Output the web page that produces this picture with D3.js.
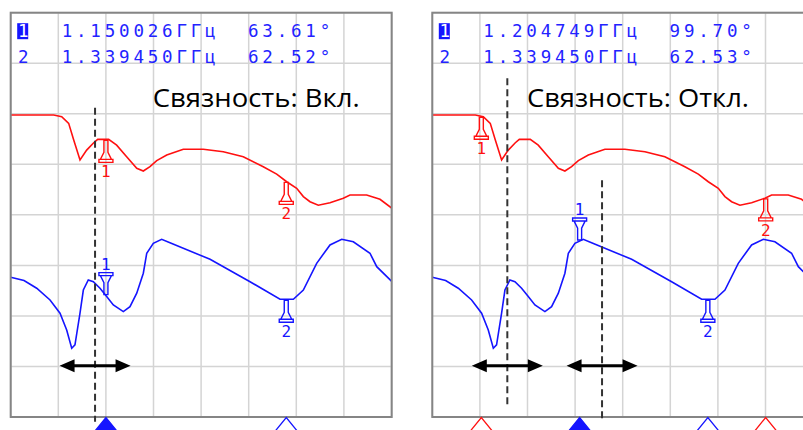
<!DOCTYPE html>
<meta charset="utf-8">
<head>
  <style>
    body { margin: 0; background: #fff; }
    .grid line { stroke: #d4d4d4; stroke-width: 1.5px; }
    .frame { fill: none; stroke: #858585; stroke-width: 2px; }
    .readout { font-family: "DejaVu Sans Mono", monospace; font-size: 17.5px; letter-spacing: 3.8px; fill: #2323ff; }
    .title { font-family: "Open Sans", sans-serif; font-size: 26px; fill: #000; }
    .mlabel { font-family: "DejaVu Sans Mono", monospace; font-size: 16px; }
    .dash { stroke: #333; stroke-width: 2px; stroke-dasharray: 7 4; }
  </style>
  <script src="https://d3js.org/d3.v7.min.js"></script>
</head>
<body>
  <svg width="803" height="430"></svg>
  <script>
    // trace 1 (red): GHz / deg
    var redFreq = [1.05, 1.0952, 1.1036, 1.1109, 1.1162, 1.1228, 1.1298, 1.1372, 1.1414, 1.1529, 1.1613, 1.1718,
      1.1824, 1.1893, 1.1963, 1.2034, 1.2139, 1.2313, 1.2523, 1.2733, 1.2943, 1.3153, 1.3294, 1.3399, 1.3504,
      1.3574, 1.3644, 1.3731, 1.3854, 1.3994, 1.4064, 1.4239, 1.4379, 1.4505];
    var redVal = [177.2, 177.2, 176.2, 172.0, 161.6, 149.1, 155.3, 159.9, 162.0, 162.0, 158.4, 151.1,
      143.9, 142.2, 144.9, 148.7, 152.2, 155.8, 155.8, 154.3, 151.1, 144.9, 140.3, 135.5, 131.4,
      126.2, 123.0, 120.8, 122.4, 125.2, 127.2, 127.2, 124.5, 118.9];
    // trace 2 (blue)
    var blueFreq = [1.05, 1.064, 1.0773, 1.0913, 1.1018, 1.1088, 1.1141, 1.1175, 1.1228, 1.1263, 1.1315, 1.1368,
      1.1438, 1.1508, 1.1578, 1.1683, 1.1753, 1.1824, 1.1893, 1.1929, 1.1998, 1.2086, 1.2173, 1.2594,
      1.3014, 1.3329, 1.3469, 1.3574, 1.3714, 1.3854, 1.3977, 1.4099, 1.4274, 1.4345, 1.4505];
    var blueVal = [75.8, 73.7, 68.9, 61.6, 53.3, 42.8, 31.4, 33.5, 53.3, 67.8, 74.1, 73.0,
      68.9, 63.7, 58.5, 54.3, 57.4, 65.8, 78.3, 90.8, 97.0, 99.5, 97.4, 87.0,
      73.0, 62.0, 62.0, 67.8, 84.5, 96.0, 99.5, 98.0, 90.8, 82.4, 73.0];

    var titles = ["Связность: Вкл.", "Связность: Откл."];
    var readIdx = ["1", "2"];
    var readFreq = [["1.150026ГГц", "1.339450ГГц"], ["1.204749ГГц", "1.339450ГГц"]];
    var readVal = [["63.61°", "62.52°"], ["99.70°", "62.53°"]];
    var blueMarkers = [[1.150026, 1.339450], [1.204749, 1.339450]];
    var redMarkers = [[1.150026, 1.339450], [1.1015, 1.4002]];
    var dashFreq = [[1.1386], [1.1288, 1.2283]];
    var arrowHalf = 0.0373;

    var svg = d3.select("svg");
    var W = 476, H = 404.3, VIS = 381;
    var x = d3.scaleLinear().domain([1.05, 1.55]).range([0, W]);
    var y = d3.scaleLinear().domain([-11.6, 241.2]).range([H, 0]);
    var xTicks = d3.range(0, 11).map(function(i) { return 1.05 + i * 0.05; });
    var yTicks = d3.range(0, 9).map(function(i) { return -11.6 + i * 31.6; });

    var RED = "#ff1010", BLUE = "#1515ff";

    var layout = [
      { x0: 10.7, titleX: 142, blueSide: ["up", "down"], redSide: ["down", "down"],
        dashY: [[95, 409]] },
      { x0: 432.3, titleX: 94.7, blueSide: ["up", "down"], redSide: ["down", "down"],
        dashY: [[65.5, 394], [167.5, 408]] }
    ];

    function valAt(fr, vals, f) {
      var i = d3.bisectLeft(fr, f);
      if (i <= 0) return vals[0];
      if (i >= fr.length) return vals[vals.length - 1];
      var t = (f - fr[i - 1]) / (fr[i] - fr[i - 1]);
      return vals[i - 1] + t * (vals[i] - vals[i - 1]);
    }

    var line = d3.line().x(function(d) { return x(d[0]); }).y(function(d) { return y(d[1]); });

    // marker symbol, tip at origin, body hangs below (s=1) or above (s=-1)
    function markerPath(s) {
      var p = [[-2, 1], [-2, 13], [-5.5, 20], [-7, 20], [-7, 23], [7, 23], [7, 20], [5.5, 20], [2, 13], [2, 1]];
      return "M" + p.map(function(q) { return q[0] + "," + (q[1] * s); }).join("L") + "Z" +
        "M-7," + (20 * s) + "H7";
    }

    layout.forEach(function(L, pi) {
      var g = svg.append("g").attr("transform", "translate(" + L.x0 + ",12.7)");

      g.append("clipPath").attr("id", "clip" + pi)
        .append("rect").attr("width", VIS).attr("height", H);

      var grid = g.append("g").attr("class", "grid");
      grid.selectAll(".v").data(xTicks.filter(function(t) { return x(t) <= VIS + 1; }))
        .enter().append("line")
        .attr("x1", function(d) { return x(d); }).attr("x2", function(d) { return x(d); })
        .attr("y1", 0).attr("y2", H);
      grid.selectAll(".h").data(yTicks).enter().append("line")
        .attr("x1", 0).attr("x2", VIS)
        .attr("y1", function(d) { return y(d); }).attr("y2", function(d) { return y(d); });

      // readout
      readIdx.forEach(function(k, r) {
        var by = 24.5 + r * 25.5;
        if (r === 0) {
          g.append("rect").attr("x", 6.5).attr("y", by - 14).attr("width", 11).attr("height", 16)
            .attr("fill", BLUE);
        }
        g.append("text").attr("class", "readout").attr("x", 7.3).attr("y", by)
          .style("fill", r === 0 ? "#fff" : null).text(k);
        g.append("text").attr("class", "readout").attr("x", 51).attr("y", by).text(readFreq[pi][r]);
        g.append("text").attr("class", "readout").attr("x", 237.3).attr("y", by).text(readVal[pi][r]);
      });

      g.append("text").attr("class", "title").attr("x", L.titleX).attr("y", 94.3)
        .attr("textLength", pi === 0 ? 207 : 222).attr("lengthAdjust", "spacingAndGlyphs")
        .text(titles[pi]);

      var traces = g.append("g").attr("clip-path", "url(#clip" + pi + ")");
      traces.append("path").datum(d3.zip(redFreq, redVal))
        .attr("d", line).attr("fill", "none").attr("stroke", RED).attr("stroke-width", 1.6);
      traces.append("path").datum(d3.zip(blueFreq, blueVal))
        .attr("d", line).attr("fill", "none").attr("stroke", BLUE).attr("stroke-width", 1.6);

      g.append("rect").attr("class", "frame").attr("width", VIS).attr("height", H);

      function drawMarkers(fs, fr, vals, sides, col) {
        fs.forEach(function(f, i) {
          var s = sides[i] === "down" ? 1 : -1;
          var mx = x(f), my = y(valAt(fr, vals, f));
          var m = g.append("g").attr("transform", "translate(" + mx + "," + my + ")");
          m.append("path").attr("d", markerPath(s)).attr("fill", "none")
            .attr("stroke", col).attr("stroke-width", 1.4);
          m.append("text").attr("class", "mlabel").attr("text-anchor", "middle")
            .attr("y", s === 1 ? 38 : -26).attr("fill", col).text(i + 1);
        });
      }
      drawMarkers(redMarkers[pi], redFreq, redVal, L.redSide, RED);
      drawMarkers(blueMarkers[pi], blueFreq, blueVal, L.blueSide, BLUE);

      // markers under the frame
      var tri = function(f, col, filled) {
        var cx = x(f);
        g.append("path")
          .attr("d", "M" + (cx - 15) + "," + (H + 19) + "L" + cx + "," + (H + 0.5) + "L" + (cx + 15) + "," + (H + 19) + "Z")
          .attr("fill", filled ? col : "none").attr("stroke", col).attr("stroke-width", 1.3);
      };
      if (pi === 1) redMarkers[pi].forEach(function(f) { tri(f, RED, false); });
      blueMarkers[pi].forEach(function(f, i) { tri(f, BLUE, i === 0); });

      // dashed lines and double arrows
      dashFreq[pi].forEach(function(f, i) {
        var cx = x(f);
        g.append("line").attr("class", "dash")
          .attr("x1", cx).attr("x2", cx).attr("y1", L.dashY[i][0]).attr("y2", L.dashY[i][1]);
        var a = x(f - arrowHalf), b = x(f + arrowHalf), ay = 353;
        g.append("line").attr("x1", a + 10).attr("x2", b - 10).attr("y1", ay).attr("y2", ay)
          .attr("stroke", "#000").attr("stroke-width", 3);
        g.append("path").attr("d", "M" + a + "," + ay + "L" + (a + 15) + "," + (ay - 6.5) + "L" + (a + 15) + "," + (ay + 6.5) + "Z");
        g.append("path").attr("d", "M" + b + "," + ay + "L" + (b - 15) + "," + (ay - 6.5) + "L" + (b - 15) + "," + (ay + 6.5) + "Z");
      });
    });
  </script>
</body>
